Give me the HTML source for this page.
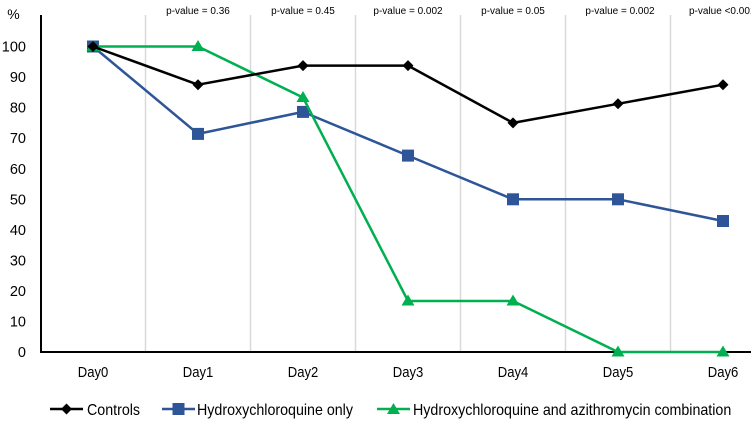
<!DOCTYPE html>
<html><head><meta charset="utf-8"><style>
html,body{margin:0;padding:0;background:#fff;}
svg{display:block;font-family:"Liberation Sans",Arial,sans-serif;}
</style></head><body>
<svg width="751" height="422" viewBox="0 0 751 422" xmlns="http://www.w3.org/2000/svg">
<rect width="751" height="422" fill="#fff"/>
<g stroke="#d9d9d9" stroke-width="1.5">
<line x1="145.5" y1="15" x2="145.5" y2="352"/>
<line x1="250.5" y1="15" x2="250.5" y2="352"/>
<line x1="355.5" y1="15" x2="355.5" y2="352"/>
<line x1="460.5" y1="15" x2="460.5" y2="352"/>
<line x1="565.5" y1="15" x2="565.5" y2="352"/>
<line x1="670.5" y1="15" x2="670.5" y2="352"/>
</g>
<line x1="41" y1="15" x2="41" y2="353" stroke="#000" stroke-width="2"/>
<line x1="40" y1="352" x2="751" y2="352" stroke="#000" stroke-width="2"/>
<g font-size="14.5" fill="#000" text-anchor="end">
<text x="26" y="51.5">100</text>
<text x="26" y="82">90</text>
<text x="26" y="112.5">80</text>
<text x="26" y="143">70</text>
<text x="26" y="174">60</text>
<text x="26" y="204.5">50</text>
<text x="26" y="235">40</text>
<text x="26" y="265.5">30</text>
<text x="26" y="296">20</text>
<text x="26" y="326.5">10</text>
<text x="26" y="357">0</text>
</g>
<text x="13.5" y="19" font-size="14" text-anchor="middle">%</text>
<g font-size="14.5" text-anchor="middle">
<text transform="translate(93,377) scale(0.9,1)">Day0</text>
<text transform="translate(198,377) scale(0.9,1)">Day1</text>
<text transform="translate(303,377) scale(0.9,1)">Day2</text>
<text transform="translate(408,377) scale(0.9,1)">Day3</text>
<text transform="translate(513,377) scale(0.9,1)">Day4</text>
<text transform="translate(618,377) scale(0.9,1)">Day5</text>
<text transform="translate(723,377) scale(0.9,1)">Day6</text>
</g>
<g font-size="10" text-anchor="middle">
<text x="198" y="14">p-value = 0.36</text>
<text x="303" y="14">p-value = 0.45</text>
<text x="408" y="14">p-value = 0.002</text>
<text x="513" y="14">p-value = 0.05</text>
<text x="620" y="14">p-value = 0.002</text>
<text x="689" y="14" text-anchor="start">p-value &lt;0.001</text>
</g>
<!-- HCQ blue -->
<polyline fill="none" stroke="#2e5597" stroke-width="2.5" stroke-linejoin="round" points="93,46.5 198,133.9 303,111.9 408,155.6 513,199.3 618,199.3 723,221"/>
<g fill="#2e5597">
<rect x="87" y="40.5" width="12" height="12"/>
<rect x="192" y="127.9" width="12" height="12"/>
<rect x="297" y="105.9" width="12" height="12"/>
<rect x="402" y="149.6" width="12" height="12"/>
<rect x="507" y="193.3" width="12" height="12"/>
<rect x="612" y="193.3" width="12" height="12"/>
<rect x="717" y="215" width="12" height="12"/>
</g>
<!-- Combo green -->
<polyline fill="none" stroke="#00b050" stroke-width="2.5" stroke-linejoin="round" points="93,46.5 198,46.5 303,97.5 408,301 513,301 618,352 723,352"/>
<g fill="#00b050">
<polygon points="93,40 99.5,51 86.5,51"/>
<polygon points="198,40 204.5,51 191.5,51"/>
<polygon points="303,91 309.5,102 296.5,102"/>
<polygon points="408,294.5 414.5,305.5 401.5,305.5"/>
<polygon points="513,294.5 519.5,305.5 506.5,305.5"/>
<polygon points="618,345.5 624.5,356.5 611.5,356.5"/>
<polygon points="723,345.5 729.5,356.5 716.5,356.5"/>
</g>
<!-- Controls black -->
<polyline fill="none" stroke="#000" stroke-width="2.5" stroke-linejoin="round" points="93,46.5 198,84.7 303,65.6 408,65.6 513,122.9 618,103.8 723,84.7"/>
<g fill="#000">
<polygon points="93,41 98.5,46.5 93,52 87.5,46.5"/>
<polygon points="198,79.2 203.5,84.7 198,90.2 192.5,84.7"/>
<polygon points="303,60.1 308.5,65.6 303,71.1 297.5,65.6"/>
<polygon points="408,60.1 413.5,65.6 408,71.1 402.5,65.6"/>
<polygon points="513,117.4 518.5,122.9 513,128.4 507.5,122.9"/>
<polygon points="618,98.3 623.5,103.8 618,109.3 612.5,103.8"/>
<polygon points="723,79.2 728.5,84.7 723,90.2 717.5,84.7"/>
</g>
<!-- Legend -->
<line x1="50" y1="409" x2="83" y2="409" stroke="#000" stroke-width="2.5"/>
<polygon points="66.5,403.5 72,409 66.5,414.5 61,409" fill="#000"/>
<text transform="translate(87,415) scale(0.92,1)" font-size="15.5">Controls</text>
<line x1="162" y1="409" x2="195" y2="409" stroke="#2e5597" stroke-width="2.5"/>
<rect x="172.5" y="403" width="12" height="12" fill="#2e5597"/>
<text transform="translate(197,415) scale(0.92,1)" font-size="15.5">Hydroxychloroquine only</text>
<line x1="377" y1="409" x2="410" y2="409" stroke="#00b050" stroke-width="2.5"/>
<polygon points="393.5,403 400,414 387,414" fill="#00b050"/>
<text transform="translate(413,415) scale(0.92,1)" font-size="15.5">Hydroxychloroquine and azithromycin combination</text>
</svg>
</body></html>
